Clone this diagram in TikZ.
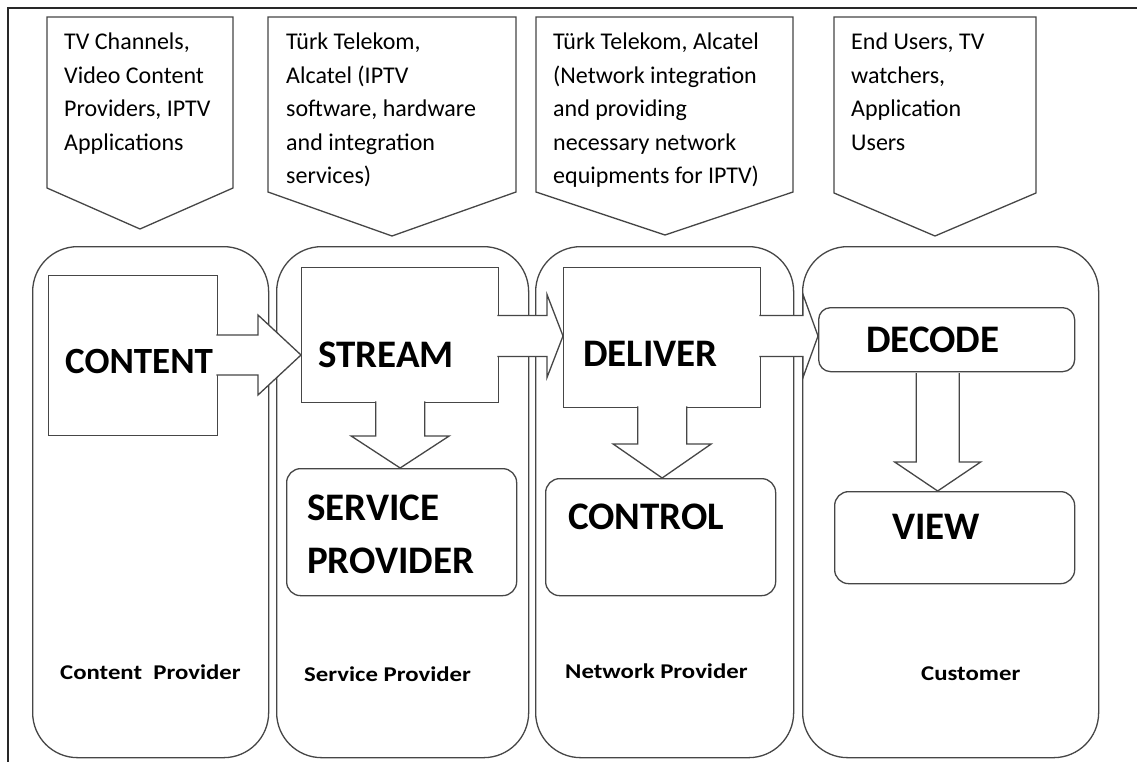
\documentclass[tikz,border=0pt]{standalone}
\usepackage{fontspec}
\setmainfont{Carlito}
\newfontfamily\lanefont[FakeStretch=1.18]{Carlito}
\usetikzlibrary{calc}
\definecolor{linecol}{RGB}{70,70,70}
\definecolor{framecol}{RGB}{40,40,40}
\begin{document}
\begin{tikzpicture}[x=1pt,y=-1pt,
  outline/.style={draw=linecol, line width=1.3pt},
  lanebox/.style={outline, rectangle, rounded corners=45pt, inner sep=0pt, anchor=north west},
  block/.style={outline, fill=white, rectangle, inner sep=0pt, anchor=north west},
  roundblock/.style={block, rounded corners=14pt},
  blockarrow/.style={outline, fill=white, line join=miter},
  callout/.style={outline, fill=white, line join=miter},
  calltext/.style={anchor=base west, inner sep=0pt, font=\fontsize{24}{33.5}\selectfont},
  bigtext/.style={anchor=base west, inner sep=0pt, font=\fontsize{39}{53}\selectfont\bfseries},
  lanetext/.style={anchor=base west, inner sep=0pt, font=\fontsize{21}{21}\selectfont\lanefont\bfseries}]

\useasboundingbox (0,0) rectangle (1137,762);
\fill[white] (0,0) rectangle (1137,762);

% frame
\draw[framecol, line width=1.2pt] (8,762) -- (8,8) -- (1137,8);

% swim lanes
\node[lanebox, minimum width=236pt, minimum height=511pt] (laneA) at (32,246) {};
\node[lanebox, minimum width=252pt, minimum height=511pt] (laneB) at (276,246) {};
\node[lanebox, minimum width=258pt, minimum height=511pt] (laneC) at (535,246) {};
\node[lanebox, minimum width=296pt, minimum height=511pt] (laneD) at (802,246) {};

% callouts above the lanes
\draw[callout] (47,17) -- (233,17) -- (233,188) -- (140,229) -- (47,188) -- cycle;
\draw[callout] (268,17) -- (516,17) -- (516,192) -- (392,236) -- (268,192) -- cycle;
\draw[callout] (536,17) -- (793,17) -- (793,192) -- (665,235) -- (536,192) -- cycle;
\draw[callout] (834,17) -- (1036,17) -- (1036,193) -- (935,236) -- (834,193) -- cycle;

% process blocks
\node[block, minimum width=169pt, minimum height=160pt] (content) at (48,275) {};
\node[block, minimum width=197pt, minimum height=135pt] (stream) at (301,267) {};
\node[block, minimum width=197pt, minimum height=140pt] (deliver) at (563,267) {};
\node[roundblock, minimum width=230pt, minimum height=127pt] (service) at (286,468) {};
\node[roundblock, minimum width=230pt, minimum height=117pt] (control) at (545,478) {};
\node[roundblock, rounded corners=12pt, minimum width=256pt, minimum height=64pt] (decode) at (818,307) {};
\node[roundblock, minimum width=240pt, minimum height=92pt] (view) at (834,491) {};

% block arrows
\coordinate (tipA) at (stream.west |- 0,355);
\draw[blockarrow] ($(content.east |- tipA)+(-2,-20)$) -- ($(tipA)+(-43,-20)$) -- ($(tipA)+(-43,-40)$)
  -- (tipA) -- ($(tipA)+(-43,40)$) -- ($(tipA)+(-43,20)$) -- ($(content.east |- tipA)+(-2,20)$);

\coordinate (tipB) at (deliver.west |- 0,336);
\draw[blockarrow] ($(stream.east |- tipB)+(-2,-20.5)$) -- ($(tipB)+(-16,-20.5)$) -- ($(tipB)+(-16,-41.5)$)
  -- (tipB) -- ($(tipB)+(-16,41.5)$) -- ($(tipB)+(-16,20.5)$) -- ($(stream.east |- tipB)+(-2,20.5)$);

\coordinate (tipC) at (decode.west |- 0,336);
\draw[blockarrow] ($(deliver.east |- tipC)+(-2,-20.5)$) -- ($(tipC)+(-15,-20.5)$) -- ($(tipC)+(-15,-41.5)$)
  -- (tipC) -- ($(tipC)+(-15,41.5)$) -- ($(tipC)+(-15,20.5)$) -- ($(deliver.east |- tipC)+(-2,20.5)$);

\coordinate (tipD) at (stream.south |- service.north);
\draw[blockarrow] ($(stream.south)+(-24.5,-2)$) -- ($(tipD)+(-24.5,-32)$) -- ($(tipD)+(-49,-32)$)
  -- (tipD) -- ($(tipD)+(49,-32)$) -- ($(tipD)+(24.5,-32)$) -- ($(stream.south)+(24.5,-2)$);

\coordinate (tipE) at (deliver.south |- control.north);
\draw[blockarrow] ($(deliver.south)+(-24.5,-2)$) -- ($(tipE)+(-24.5,-34)$) -- ($(tipE)+(-49,-34)$)
  -- (tipE) -- ($(tipE)+(49,-34)$) -- ($(tipE)+(24.5,-34)$) -- ($(deliver.south)+(24.5,-2)$);

\coordinate (baseF) at ($(decode.south)+(-9,0)$);
\coordinate (tipF) at (baseF |- view.north);
\draw[blockarrow] ($(baseF)+(-21.5,0.7)$) -- ($(tipF)+(-21.5,-29)$) -- ($(tipF)+(-43,-29)$)
  -- (tipF) -- ($(tipF)+(43,-29)$) -- ($(tipF)+(21.5,-29)$) -- ($(baseF)+(21.5,0.7)$);

% callout texts
\node[calltext] (tc1) at (64,50) {\parbox[t]{200pt}{\raggedright TV Channels,\\Video Content\\Providers, IPTV\\Applications}};
\node[calltext] (tc2) at (286,50) {\parbox[t]{240pt}{\raggedright Türk Telekom,\\Alcatel (IPTV\\software, hardware\\and integration\\services)}};
\node[calltext] (tc3) at (553,50) {\parbox[t]{240pt}{\raggedright Türk Telekom, Alcatel\\(Network integration\\and providing\\necessary network\\equipments for IPTV)}};
\node[calltext] (tc4) at (851,50) {\parbox[t]{200pt}{\raggedright End Users, TV\\watchers,\\Application\\Users}};

% block labels
\node[bigtext, font=\fontsize{37}{37}\selectfont\bfseries] (lcontent) at (65,373) {CONTENT};
\node[bigtext] (lstream) at (318,367) {STREAM};
\node[bigtext] (ldeliver) at (583,366) {DELIVER};
\node[bigtext] (ldecode) at (866,352) {DECODE};
\node[bigtext] (lservice) at (307,520) {\parbox[t]{200pt}{\raggedright SERVICE\\PROVIDER}};
\node[bigtext] (lcontrol) at (568,529) {CONTROL};
\node[bigtext] (lview) at (892,539) {VIEW};

% lane titles
\node[lanetext] (nA) at (60,679) {Content\ \ Provider};
\node[lanetext] (nB) at (304,681) {Service Provider};
\node[lanetext] (nC) at (565,678) {Network Provider};
\node[lanetext] (nD) at (921,680) {Customer};
\end{tikzpicture}
\end{document}
